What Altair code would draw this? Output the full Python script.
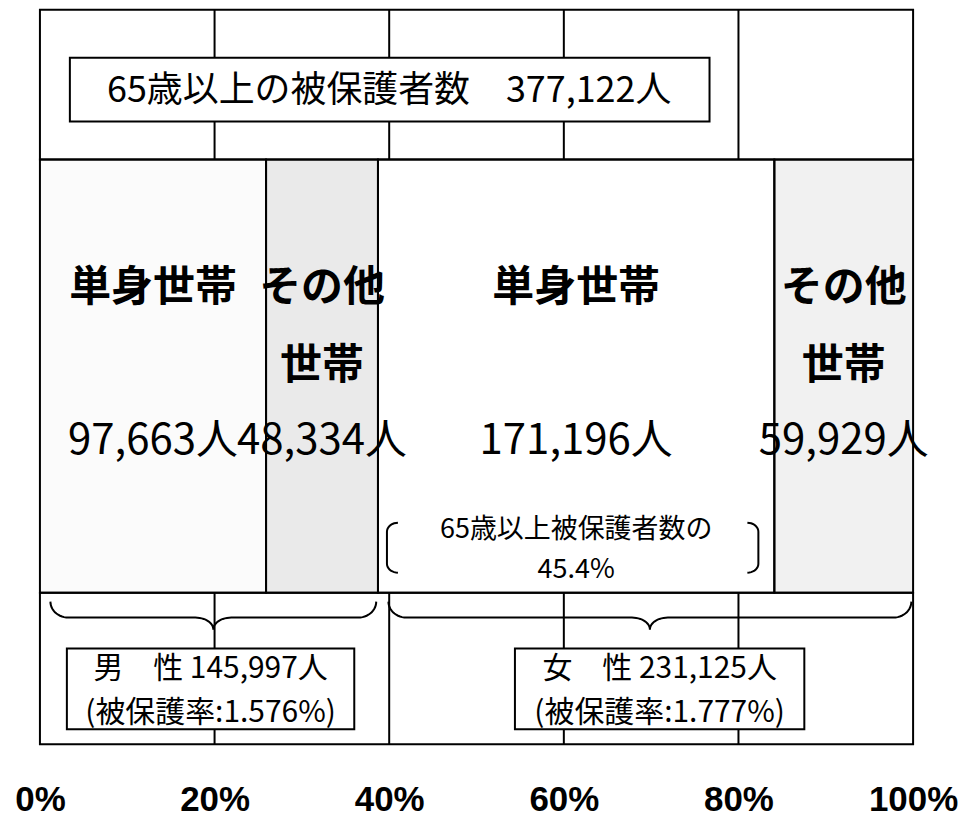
import altair as alt
import numpy as np
import pandas as pd

# ---------------- data ----------------
genders = ["男性", "男性", "女性", "女性"]
household_types = ["単身世帯", "その他世帯", "単身世帯", "その他世帯"]
label_line1 = ["単身世帯", "その他", "単身世帯", "その他"]
label_line2 = ["", "世帯", "", "世帯"]
persons = [97663, 48334, 171196, 59929]

gender_order = ["男性", "女性"]
gender_labels = ["男　性", "女　性"]
protection_rates = ["1.576%", "1.777%"]

tick_values = [0, 20, 40, 60, 80, 100]
grid_values = [20, 40, 60, 80]

title_text = "65歳以上の被保護者数"
share_text = "65歳以上被保護者数の"
share_target = ("女性", "単身世帯")

# ---------------- styles / layout ----------------
JP = "Noto Sans CJK JP"
AXIS_FONT = "Liberation Sans Narrow, Liberation Sans, Arial"
FILLS = ["#fbfbfb", "#eaeaea", "#ffffff", "#f1f1f1"]
W, H = 875, 740
PX = 100.0 / W          # percent per pixel
SW = 2                  # stroke width

BAND1 = (1, 151)
BAR = (151, 585)
BAND2 = (585, 737)
ROW1, ROW2, ROW3 = 280, 358, 433
B_TOP, B_MID, B_TIP = 594, 610, 622

XS = alt.Scale(domain=[0, 100], nice=False, zero=False)
YS = alt.Scale(domain=[0, H], reverse=True, nice=False, zero=False)

AXIS = alt.Axis(values=tick_values, labelExpr="datum.value + '%'", domain=False, ticks=False,
                tickSize=0, grid=False, labelFont=AXIS_FONT, labelFontSize=35,
                labelFontWeight="bold", labelColor="black", labelPadding=52,
                labelBaseline="middle", labelFlush=False, labelOverlap=False, title=None)


def X(field):
    return alt.X(field, type="quantitative", scale=XS, axis=AXIS)


# ---------------- derived tables ----------------
total = int(sum(persons))
pct = np.array(persons) / total * 100
x1 = np.cumsum(pct)
x0 = x1 - pct
seg = pd.DataFrame({
    "gender": genders, "type": household_types,
    "l1": label_line1, "l2": label_line2, "n": persons,
    "x0": x0, "x1": x1,
})
seg["mid"] = (seg["x0"] + seg["x1"]) / 2
seg["num"] = [f"{v:,}人" for v in persons]
seg["key"] = seg["gender"] + seg["type"]
keys = list(seg["key"])

groups = seg.groupby("gender", sort=False).agg(x0=("x0", "min"), x1=("x1", "max"), n=("n", "sum")).reindex(gender_order)

one = pd.DataFrame({"a": [0]})

# ---------------- layers ----------------
grid_df = pd.DataFrame({"x": grid_values})
grid_top = alt.Chart(grid_df).mark_rule(stroke="black", strokeWidth=SW).encode(
    x=X("x"), y=alt.value(BAND1[0]), y2=alt.value(BAND1[1]))
grid_bot = alt.Chart(grid_df).mark_rule(stroke="black", strokeWidth=SW).encode(
    x=X("x"), y=alt.value(BAND2[0]), y2=alt.value(BAND2[1]))

bar_fill = alt.Chart(seg).mark_rect(strokeWidth=0).encode(
    x=X("x0"), x2="x1",
    y=alt.value(BAR[0]), y2=alt.value(BAR[1]),
    color=alt.Color("key:N", scale=alt.Scale(domain=keys, range=FILLS), legend=None))

t1 = alt.Chart(seg).mark_text(font=JP, fontSize=42, fontWeight="bold", color="black",
                              align="center", baseline="middle").encode(
    x=X("mid"), y=alt.value(ROW1), text="l1:N")
t2 = alt.Chart(seg).mark_text(font=JP, fontSize=42, fontWeight="bold", color="black",
                              align="center", baseline="middle").encode(
    x=X("mid"), y=alt.value(ROW2), text="l2:N")
t3 = alt.Chart(seg).mark_text(font=JP, fontSize=42, color="black",
                              align="center", baseline="middle").encode(
    x=X("mid"), y=alt.value(ROW3), text="num:N")

bar_line = alt.Chart(seg).mark_rect(fillOpacity=0, stroke="black", strokeWidth=SW).encode(
    x=X("x0"), x2="x1",
    y=alt.value(BAR[0]), y2=alt.value(BAR[1]))

band_top = alt.Chart(one).mark_rect(fillOpacity=0, stroke="black", strokeWidth=SW).encode(
    x=alt.value(0), x2=alt.value(W), y=alt.value(BAND1[0]), y2=alt.value(BAND1[1]))
band_bot = alt.Chart(one).mark_rect(fillOpacity=0, stroke="black", strokeWidth=SW).encode(
    x=alt.value(0), x2=alt.value(W), y=alt.value(BAND2[0]), y2=alt.value(BAND2[1]))

title_box = alt.Chart(one).mark_rect(fill="white", stroke="black", strokeWidth=SW).encode(
    x=alt.value(30), x2=alt.value(671), y=alt.value(49), y2=alt.value(113))
title_lbl = alt.Chart(one).mark_text(font=JP, fontSize=36, color="black",
                                     align="center", baseline="middle").encode(
    x=alt.value(350), y=alt.value(82), text=alt.value(f"{title_text}　{total:,}人"))

# braces under each gender group
rx = 18 * PX
tt = np.linspace(0, np.pi / 2, 14)
brace_rows = []
for g in gender_order:
    xa = groups.loc[g, "x0"] + 1.2
    xb = groups.loc[g, "x1"] - 0.2
    xt = (groups.loc[g, "x0"] + groups.loc[g, "x1"]) / 2 + 0.5
    pts = []
    pts += [(xa + rx * (1 - np.cos(t)), B_TOP + (B_MID - B_TOP) * np.sin(t)) for t in tt]
    pts += [(xt - rx + rx * np.sin(t), B_MID + (B_TIP - B_MID) * (1 - np.cos(t))) for t in tt]
    pts += [(xt + rx - rx * np.sin(t), B_MID + (B_TIP - B_MID) * (1 - np.cos(t))) for t in tt[::-1]]
    pts += [(xb - rx * (1 - np.cos(t)), B_TOP + (B_MID - B_TOP) * np.sin(t)) for t in tt[::-1]]
    for i, (px, py) in enumerate(pts):
        brace_rows.append({"g": g, "i": i, "x": px, "y": py})
brace_df = pd.DataFrame(brace_rows)
braces = alt.Chart(brace_df).mark_line(stroke="black", strokeWidth=SW).encode(
    x=X("x"), y=alt.Y("y:Q", scale=YS, axis=None),
    detail="g:N", order="i:Q")

# gender boxes
box_pos = {"男性": (27, 315, 171), "女性": (476, 766, 621)}
gender_layers = []
for g, name, rate in zip(gender_order, gender_labels, protection_rates):
    bx0, bx1, cx = box_pos[g]
    gender_layers.append(alt.Chart(one).mark_rect(fill="white", stroke="black", strokeWidth=SW).encode(
        x=alt.value(bx0), x2=alt.value(bx1), y=alt.value(641), y2=alt.value(722)))
    gender_layers.append(alt.Chart(one).mark_text(font=JP, fontSize=30, color="black",
                                                  align="center", baseline="middle").encode(
        x=alt.value(cx), y=alt.value(662), text=alt.value(f"{name} {int(groups.loc[g, 'n']):,}人")))
    gender_layers.append(alt.Chart(one).mark_text(font=JP, fontSize=30, color="black",
                                                  align="center", baseline="middle").encode(
        x=alt.value(cx), y=alt.value(706), text=alt.value(f"(被保護率:{rate})")))

# share annotation inside female single-household segment
tgt = seg[(seg["gender"] == share_target[0]) & (seg["type"] == share_target[1])].iloc[0]
share_pct = tgt["n"] / total * 100
share_df = pd.DataFrame({"x": [tgt["mid"]], "a": [share_text], "b": [f"{share_pct:.1f}%"]})
share_a = alt.Chart(share_df).mark_text(font=JP, fontSize=27, color="black",
                                        align="center", baseline="middle").encode(
    x=X("x"), y=alt.value(522), text="a:N")
share_b = alt.Chart(share_df).mark_text(font=JP, fontSize=27, color="black",
                                        align="center", baseline="middle").encode(
    x=X("x"), y=alt.value(562), text="b:N")

br_top, br_bot, br_w, br_r = 515, 565, 11 * PX, 9
ts = np.linspace(0, np.pi / 2, 10)
br_rows = []
for side, xs, sgn in (("L", tgt["x0"] + 9 * PX, 1), ("R", tgt["x1"] - 16 * PX, -1)):
    pts = [(xs + sgn * br_w * (1 - np.sin(t)), br_top + br_r * (1 - np.cos(t))) for t in ts]
    pts += [(xs + sgn * br_w * (1 - np.sin(t)), br_bot - br_r * (1 - np.cos(t))) for t in ts[::-1]]
    for i, (px, py) in enumerate(pts):
        br_rows.append({"s": side, "i": i, "x": px, "y": py})
br_df = pd.DataFrame(br_rows)
brackets = alt.Chart(br_df).mark_line(stroke="black", strokeWidth=SW).encode(
    x=X("x"), y=alt.Y("y:Q", scale=YS, axis=None),
    detail="s:N", order="i:Q")

chart = alt.layer(
    grid_top, grid_bot, bar_fill, t1, t2, t3, bar_line, band_top, band_bot,
    title_box, title_lbl, braces, *gender_layers, share_a, share_b, brackets,
).properties(
    width=W, height=H,
    autosize=alt.AutoSizeParams(type="none"),
    padding={"left": 32, "top": 0, "right": 45, "bottom": 75},
    background="white",
).configure_view(stroke=None)

chart.save("out.html", embed_options={"renderer": "svg", "actions": False})
